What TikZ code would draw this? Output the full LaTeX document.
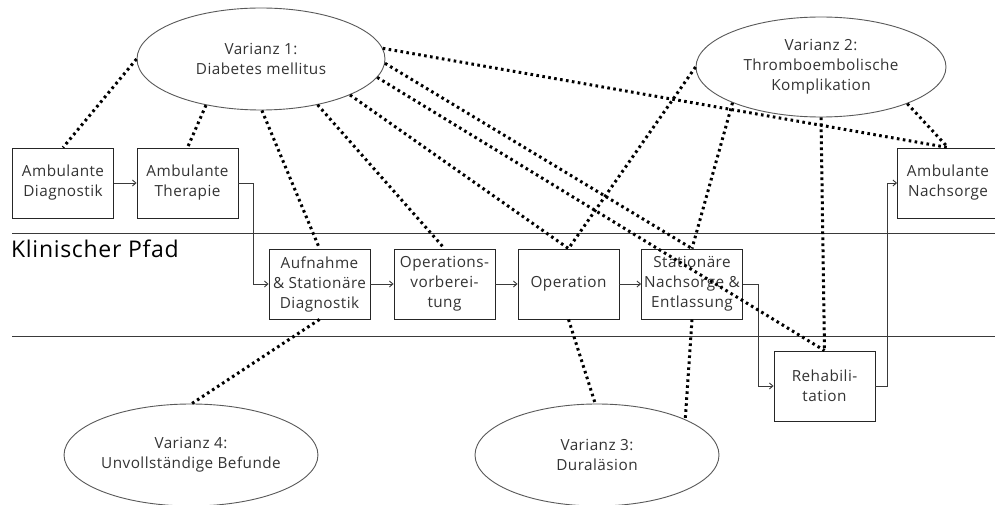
\documentclass[tikz,border=0pt]{standalone}
\usepackage{fontspec}
\setmainfont{Open Sans}[LetterSpace=3]
\usetikzlibrary{shapes.geometric,arrows.meta}
\definecolor{txt}{HTML}{333333}
\definecolor{ln}{HTML}{3A3A3A}
\tikzset{
  stepbox/.style={draw=black!85, line width=0.9pt, minimum width=101pt, minimum height=70pt, inner sep=0pt, align=center, font=\fontsize{15.3}{20}\selectfont, text=txt, fill=white},
  varell/.style={ellipse, draw=black!65, line width=0.9pt, inner sep=0pt, align=center, font=\fontsize{15.3}{20}\selectfont, text=txt, fill=white},
  flow/.style={draw=ln, line width=0.9pt, -{Straight Barb[length=3.5pt,width=6pt]}},
  dotline/.style={draw=black, line width=3pt, dash pattern=on 2.6pt off 3.4pt},
  rule/.style={draw=ln, line width=1pt}
}
\begin{document}
\begin{tikzpicture}[x=1pt,y=-1pt]
\useasboundingbox (0,0) rectangle (995,505);
\clip (0,0) rectangle (995,505);
\fill[white] (0,0) rectangle (995,505);

% lanes
\coordinate (l1a) at (12,233);
\coordinate (l1b) at (995,233);
\coordinate (l2a) at (12,336);
\coordinate (l2b) at (995,336);
\draw[rule] (l1a) -- (l1b);
\draw[rule] (l2a) -- (l2b);
\node[anchor=base west, inner sep=0pt, font=\fontsize{23}{26}\selectfont, text=black] (pfad) at (11,257) {Klinischer Pfad};

% process boxes
\node[stepbox] (diag) at (63,183) {Ambulante\\Diagnostik};
\node[stepbox] (ther) at (187.5,183) {Ambulante\\Therapie};
\node[stepbox] (auf) at (319.5,284) {Aufnahme\\\& Stationäre\\Diagnostik};
\node[stepbox] (opv) at (444.5,284) {Operations-\\vorberei-\\tung};
\node[stepbox] (op) at (568.5,284) {Operation};
\node[stepbox] (stat) at (692,284) {Stationäre\\Nachsorge \&\\Entlassung};
\node[stepbox] (reha) at (824.5,386) {Rehabili-\\tation};
\node[stepbox] (nach) at (948,183) {Ambulante\\Nachsorge};

% flow
\draw[flow] (diag.east) -- (ther.west);
\draw[flow] (ther.east) -- ++(15,0) |- (auf.west);
\draw[flow] (auf.east) -- (opv.west);
\draw[flow] (opv.east) -- (op.west);
\draw[flow] (op.east) -- (stat.west);
\draw[flow] (stat.east) -- ++(15,0) |- (reha.west);
\draw[flow] (reha.east) -- ++(12,0) |- (nach.west);

% variances
\node[varell, minimum width=248pt, minimum height=102pt] (v1) at (261,59) {Varianz 1:\\Diabetes mellitus};
\node[varell, minimum width=250pt, minimum height=100pt] (v2) at (821,67) {Varianz 2:\\Thromboembolische\\Komplikation};
\node[varell, minimum width=244pt, minimum height=102pt] (v3) at (597,455) {Varianz 3:\\Duraläsion};
\node[varell, minimum width=250pt, minimum height=102pt] (v4) at (191,455) {Varianz 4:\\Unvollständige Befunde};

% dotted relations
\draw[dotline] (v1.180) -- (diag.north);
\draw[dotline] (v1.220) -- (ther.north);
\draw[dotline] (v1.271) -- (auf.north);
\draw[dotline] (v1.321) -- (opv.north);
\draw[dotline] (v1.338) -- (op.north);
\draw[dotline] (v1.351) -- (reha.north);
\draw[dotline] (v1.358) -- (stat.north);
\draw[dotline] (v1.5) -- (nach.north);

\draw[dotline] (v2.180) -- (op.north);
\draw[dotline] (v2.202) -- (stat.north);
\draw[dotline] (v2.270) -- (reha.north);
\draw[dotline] (v2.337) -- (nach.north);

\draw[dotline] (op.south) -- (v3.92);
\draw[dotline] (stat.south) -- (v3.22);

\draw[dotline] (auf.south) -- (v4.89);
\end{tikzpicture}
\end{document}
